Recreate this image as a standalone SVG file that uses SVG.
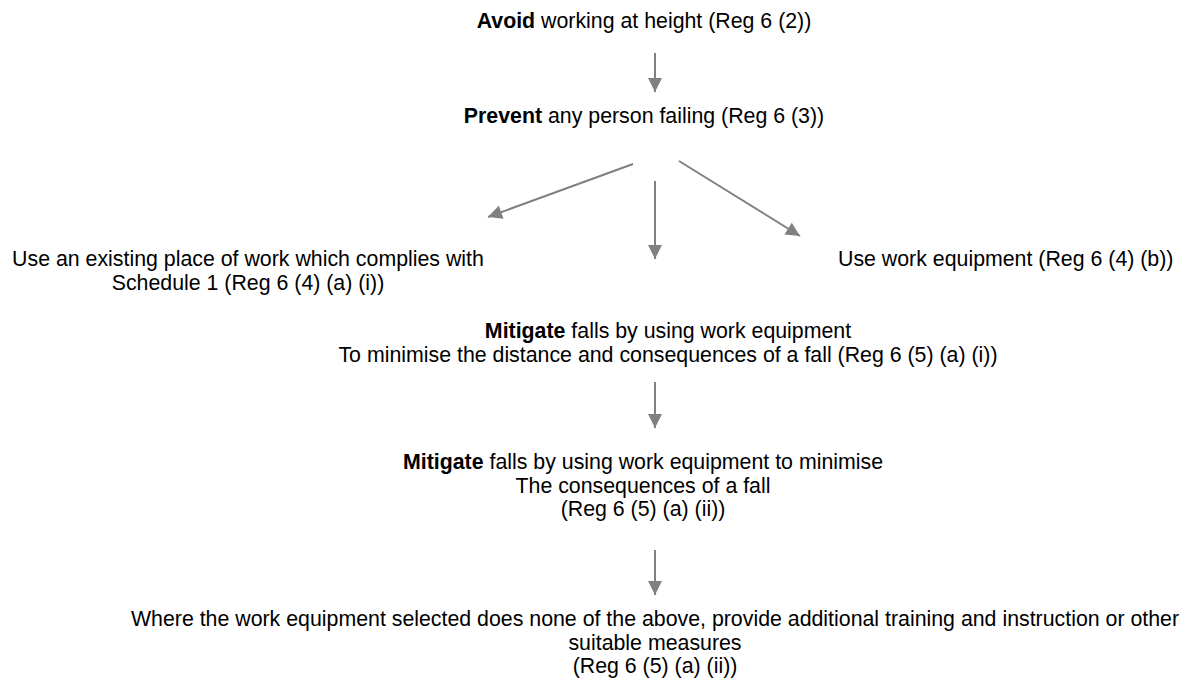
<svg xmlns="http://www.w3.org/2000/svg" width="1186" height="684" viewBox="0 0 1186 684">
<style>
text{font-family:"Liberation Sans",Arial,sans-serif;font-size:21.33px;fill:#000}
.c{text-anchor:middle}
.b{font-weight:bold}
.conn line{stroke:#808080;stroke-width:2;fill:none}
</style>
<defs>
<marker id="ah" viewBox="0 0 10 10" refX="10" refY="5" markerUnits="userSpaceOnUse" markerWidth="15" markerHeight="14" orient="auto">
<path d="M0,0 L10,5 L0,10 z" fill="#808080"/>
</marker>
</defs>
<rect width="1186" height="684" fill="#fff"/>
<g id="n-avoid"><text class="c" x="644" y="28"><tspan class="b">Avoid</tspan> working at height (Reg 6 (2))</text></g>
<g id="n-prevent"><text class="c" x="644" y="123"><tspan class="b">Prevent</tspan> any person failing (Reg 6 (3))</text></g>
<g id="n-existing"><text class="c" x="248" y="266">Use an existing place of work which complies with</text><text class="c" x="248" y="289.5">Schedule 1 (Reg 6 (4) (a) (i))</text></g>
<g id="n-equipment"><text x="838" y="266">Use work equipment (Reg 6 (4) (b))</text></g>
<g id="n-mitigate1"><text class="c" x="668" y="338"><tspan class="b">Mitigate</tspan> falls by using work equipment</text><text class="c" x="668" y="361.5">To minimise the distance and consequences of a fall (Reg 6 (5) (a) (i))</text></g>
<g id="n-mitigate2"><text class="c" x="643" y="469"><tspan class="b">Mitigate</tspan> falls by using work equipment to minimise</text><text class="c" x="643" y="492.5">The consequences of a fall</text><text class="c" x="643" y="516">(Reg 6 (5) (a) (ii))</text></g>
<g id="n-other"><text class="c" x="655" y="626">Where the work equipment selected does none of the above, provide additional training and instruction or other</text><text class="c" x="655" y="649.5">suitable measures</text><text class="c" x="655" y="673">(Reg 6 (5) (a) (ii))</text></g>
<g class="conn" id="connectors">
<line x1="655" y1="53" x2="655" y2="92" marker-end="url(#ah)"/>
<line x1="633" y1="164" x2="488" y2="217" marker-end="url(#ah)"/>
<line x1="655" y1="181" x2="655" y2="259" marker-end="url(#ah)"/>
<line x1="679" y1="161" x2="800" y2="236" marker-end="url(#ah)"/>
<line x1="655" y1="382" x2="655" y2="428" marker-end="url(#ah)"/>
<line x1="655" y1="550" x2="655" y2="595" marker-end="url(#ah)"/>
</g>
</svg>
